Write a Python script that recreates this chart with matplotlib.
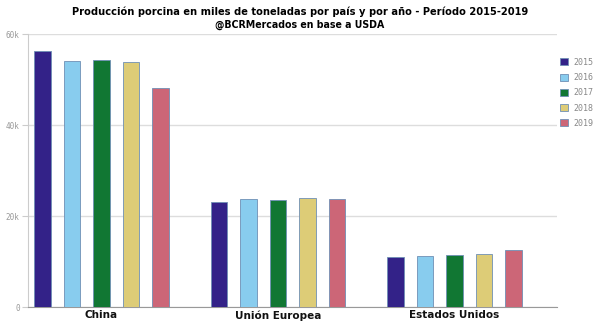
import numpy as np
import matplotlib
matplotlib.use("Agg")
from matplotlib import pyplot as plt
from matplotlib import font_manager as fm

countries = ["China", "Unión Europea", "Estados Unidos"]
years = ["2015", "2016", "2017", "2018", "2019"]
# miles de toneladas
prod = {
    "2015": [56300, 23100, 11000],
    "2016": [54100, 23700, 11200],
    "2017": [54200, 23500, 11500],
    "2018": [53800, 24100, 11800],
    "2019": [48200, 23800, 12500],
}
colors = ["#332288", "#88ccee", "#117733", "#ddcc77", "#cc6677"]
yticks = [0, 20000, 40000, 60000]
ytick_labels = ["0", "20k", "40k", "60k"]

# pick a narrow bold face if one is around
title_font = {"family": "DejaVu Sans"}
names = {f.name for f in fm.fontManager.ttflist}
condensed = [f for f in fm.fontManager.ttflist
             if f.stretch in ("condensed", "semi-condensed", 562, 687, 625) or "Narrow" in f.name or "Condensed" in f.name]
if "Liberation Sans Narrow" in names:
    title_font = {"family": "Liberation Sans Narrow"}
elif condensed:
    f0 = condensed[0]
    title_font = {"family": f0.name, "stretch": f0.stretch}

fig = plt.figure(figsize=(6, 3.25), dpi=100)
ax = fig.add_axes([28 / 600, 1 - 307.3 / 325, 529 / 600, (307.3 - 34) / 325])

x = np.arange(len(countries))
step = 0.167
width = 0.094
for i, yr in enumerate(years):
    ax.bar(x + (i - 2) * step, prod[yr], width, color=colors[i],
           edgecolor="#6f8fb5", linewidth=0.6, label=yr, zorder=3)

ax.set_xlim(-0.416, 2.58)
ax.set_ylim(0, 60000)
ax.set_yticks(yticks)
ax.set_yticklabels(ytick_labels, fontsize=5.5, color="#999999", family="DejaVu Sans Mono")
ax.set_xticks(x)
ax.set_xticklabels(countries, fontsize=7.5, fontweight="bold", color="#111111")
ax.tick_params(axis="x", length=0, pad=2)
ax.tick_params(axis="y", length=4, color="#cccccc", width=0.8, pad=2)
ax.grid(axis="y", color="#dddddd", linewidth=1, zorder=0)

for side in ["top", "right"]:
    ax.spines[side].set_visible(False)
ax.spines["left"].set_color("#cccccc")
ax.spines["bottom"].set_color("#999999")

leg = ax.legend(loc="upper left", bbox_to_anchor=(1.0, 0.925), frameon=False,
                prop={"family": "DejaVu Sans Mono", "size": 6},
                handlelength=0.9, handleheight=0.9, handletextpad=0.7,
                labelspacing=0.75, borderaxespad=0)
for t in leg.get_texts():
    t.set_color("#888888")

title = fig.text(0.5, 0.965, "Producción porcina en miles de toneladas por país y por año - Período 2015-2019",
                 ha="center", va="center", fontsize=10.5, fontweight="bold", **title_font)
sub = fig.text(0.5, 0.922, "@BCRMercados en base a USDA", ha="center", va="center",
               fontsize=7.5, fontweight="bold", **title_font)

# squeeze to the widths seen in the reference
fig.canvas.draw()
r = fig.canvas.get_renderer()
for t, target in [(title, 455), (sub, 170)]:
    w = t.get_window_extent(r).width
    t.set_fontsize(t.get_fontsize() * target / w)

fig.savefig("out.png", dpi=100)
